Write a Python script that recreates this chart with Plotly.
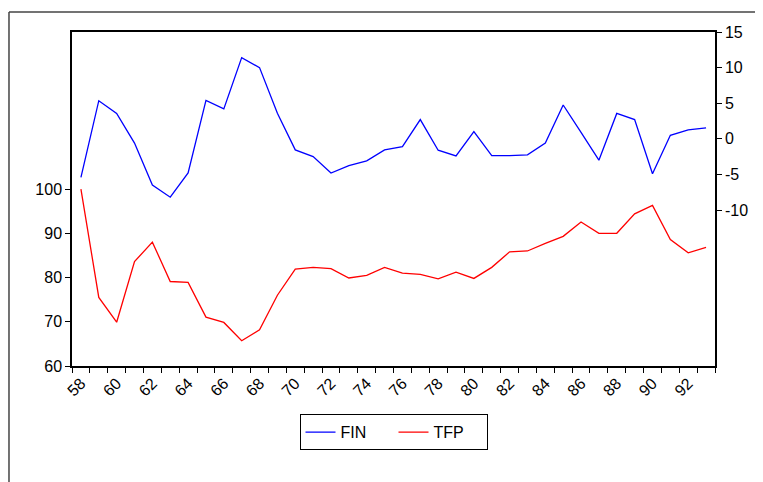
import plotly.graph_objects as go

years = list(range(58, 94))

fin = [-5.4, 5.35, 3.57, -0.6, -6.5, -8.2, -4.8, 5.4, 4.2, 11.4,
       10.0, 3.6, -1.55, -2.5, -4.8, -3.75, -3.1, -1.55, -1.1, 2.7,
       -1.6, -2.4, 1.0, -2.35, -2.35, -2.25, -0.6, 4.75, 0.9, -3.0,
       3.57, 2.7, -4.9, 0.5, 1.27, 1.55]

tfp = [100.0, 75.5, 69.9, 83.6, 88.0, 79.1, 78.9, 71.05, 69.85, 65.7,
       68.2, 76.0, 81.9, 82.3, 82.0, 79.9, 80.5, 82.3, 81.0, 80.7,
       79.7, 81.2, 79.8, 82.3, 85.8, 86.0, 87.7, 89.3, 92.55, 90.0,
       90.0, 94.4, 96.3, 88.6, 85.6, 86.8]

x_labels = [str(y) for y in range(58, 93, 2)]
left_ticks = [60, 70, 80, 90, 100]
right_ticks = [-10, -5, 0, 5, 10, 15]

font = dict(family="Liberation Sans, Arial, sans-serif", size=16, color="black")

fig = go.Figure()

fig.add_trace(go.Scatter(
    x=years, y=fin, mode="lines", name="FIN",
    line=dict(color="#0000ff", width=1.3),
    yaxis="y2"
))
fig.add_trace(go.Scatter(
    x=years, y=tfp, mode="lines", name="TFP",
    line=dict(color="#ff0000", width=1.3),
    yaxis="y"
))

# page body adds an 8px offset, so margins are trimmed by 8
fig.update_layout(
    width=763, height=482,
    margin=dict(l=64, r=56, t=24, b=124, autoexpand=False),
    paper_bgcolor="white", plot_bgcolor="white",
    font=font,
    showlegend=True,
    legend=dict(
        orientation="h", x=0.5, xanchor="center", y=-0.198, yanchor="middle",
        bordercolor="black", borderwidth=1, bgcolor="white",
        font=dict(size=16), itemwidth=30, entrywidth=48,
    ),
    xaxis=dict(
        range=[57.5, 93.5], automargin=False,
        tickmode="array", tickvals=[int(v) for v in x_labels], ticktext=x_labels,
        ticks="", tickangle=-45,
        showline=True, linecolor="black", linewidth=1.5, mirror=True,
        showgrid=False, zeroline=False,
        minor=dict(ticks="outside", tick0=57.5, dtick=1, ticklen=5,
                   tickcolor="black", showgrid=False),
    ),
    yaxis=dict(
        range=[60, 135.5], automargin=False,
        tickmode="array", tickvals=left_ticks,
        ticks="outside", ticklen=5, tickcolor="black",
        showline=True, linecolor="black", linewidth=1.5,
        showgrid=False, zeroline=False,
    ),
    yaxis2=dict(
        range=[-31.9, 15], automargin=False,
        overlaying="y", side="right",
        tickmode="array", tickvals=right_ticks,
        ticktext=[str(v) for v in right_ticks],
        ticks="outside", ticklen=5, tickcolor="black",
        showline=True, linecolor="black", linewidth=1.5,
        showgrid=False, zeroline=False,
    ),
    shapes=[
        dict(type="line", xref="paper", yref="paper",
             x0=-0.098, x1=1.1, y0=1.06, y1=1.06,
             line=dict(color="#444444", width=1.5)),
        dict(type="line", xref="paper", yref="paper",
             x0=-0.098, x1=-0.098, y0=1.06, y1=-0.4,
             line=dict(color="#444444", width=1.5)),
    ],
)

fig.write_html("out.html")
